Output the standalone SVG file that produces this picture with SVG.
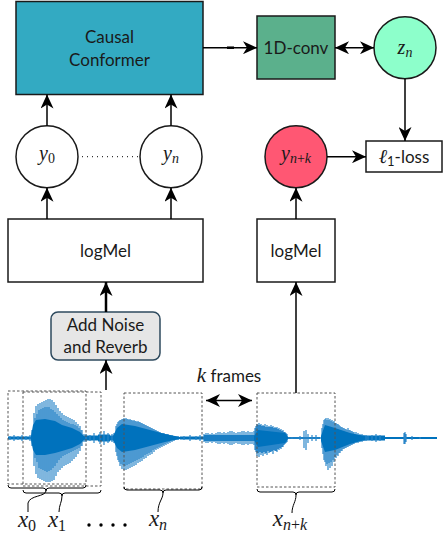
<svg xmlns="http://www.w3.org/2000/svg" width="443" height="538" viewBox="0 0 443 538">
<defs>
<style>
.box{stroke:#1a1a1a;stroke-width:1.5}
.lbl{font-family:Lato,"Noto Sans",sans-serif;font-size:17px;fill:#1a1a1a;text-anchor:middle}
.math{font-family:"Liberation Serif","DejaVu Serif",serif;font-style:italic;fill:#1a1a1a;text-anchor:middle}
.ln{stroke:#000;stroke-width:1.5;fill:none}
.dash{fill:none;stroke:#555;stroke-width:1;stroke-dasharray:2.5 2}
.brace{fill:none;stroke:#000;stroke-width:1}
.wl{fill:none;stroke:#2a86c9;stroke-width:1.2}
.wc{fill:#0072bd}
</style>
<marker id="ah" viewBox="0 0 14 13" refX="14" refY="6.5" markerWidth="14" markerHeight="13" markerUnits="userSpaceOnUse" orient="auto-start-reverse">
<path d="M0,0 L14,6.5 L0,13 L4,6.5 Z" fill="#000"/>
</marker>
</defs>

<g id="waveform">
<path d="M8 438H437" stroke="#3a8fd0" stroke-width="1.5"/>
<path class="wc" d="M8 436.5H32V439.5H8Z M84 435.5H114V440.5H84Z M98 434.5H110V441.5H98Z M180 436.5H204V439.5H180Z M204 435H255V441H204Z M288 437.2H320V438.8H288Z M355 435.5H385V440.5H355Z M385 437H437V439H385Z"/>
<path class="wl" d="M10 436V440M14 435V441M18 436V440M22 435V441M26 436V440M30 435V441M86 434V442M90 435V441M94 433V443M100 432V444M104 431V445M108 433V443M112 434V442M184 436V440M190 435V441M196 436V440M200 435V441M204 434V442M206 433V443M208 433V443M210 434V442M212 433V443M214 434V442M216 433V443M218 432V444M220 432V444M222 433V443M224 432V444M226 433V443M228 432V444M230 431V445M232 431V445M234 432V444M236 433V443M238 432V444M240 432V444M242 431V445M244 431V445M246 432V444M248 431V445M250 432V444M252 432V444M254 431V445M292 437V439M300 436V440M304 431V448M306 430V450M308 434V443M312 435V441M316 435V441M372 435V441M376 434V442M380 435V441M404 433V444M405 432V444M406 434V442M412 436V440M420 437V439"/>
<path class="wl" d="M32 430V446M34 413V466M36 406V474M38 404V478M40 403V479M42 402V480M44 401V481M46 400V482M48 399V482M50 399V482M52 400V481M54 402V480M56 405V476M58 408V472M60 411V470M62 413V468M64 415V466M66 416V465M68 417V464M70 418V463M72 419V461M74 420V459M76 422V457M78 424V454M80 426V451M82 430V446M84 434V442"/>
<path class="wl" d="M35 418V458M37 414V462M39 410V468M41 409V469M43 408V470M45 407V471M47 407V472M49 407V471M51 409V470M53 410V468M55 412V466M57 414V463M59 416V460M61 418V458M63 420V456M65 421V455M67 422V454M69 423V453M71 424V452M73 424V451M75 425V450M77 426V449M79 428V448M81 430V446"/>
<path class="wc" d="M31 436L33 425L36 420L45 419L55 421L62 425L72 428L80 432L85 437L85 439L80 444L72 448L62 451L55 453L45 455L36 455L33 450L31 440Z"/>
<path class="wl" d="M114 433V443M116 426V452M118 422V460M120 420V466M122 419V469M124 418V470M126 418V470M128 419V469M130 419V468M132 420V467M134 420V466M136 421V465M138 421V463M140 422V462M142 423V461M144 424V459M146 425V458M148 426V456M150 427V455M152 428V454M154 429V452M156 430V450M158 431V449M160 432V448M162 433V447M164 433V446M166 434V445M168 434V444M170 435V443M172 435V442M174 436V441M176 436V440M178 436V440"/>
<path class="wl" d="M117 424V456M119 421V462M121 420V464M123 419V465M125 419V466M127 419V465M129 420V464M131 420V463M133 421V462M135 421V461M137 422V460M139 422V459M141 423V458M143 424V457M145 425V455M147 426V454M149 427V453M151 428V452M153 429V450M155 430V449M157 431V448M159 432V447M161 433V446M163 433V445M165 434V444M167 434V443M169 435V442"/>
<path class="wc" d="M113 436L117 428L122 424L135 426L150 430L165 434L180 437L180 439L165 442L150 446L135 450L122 452L117 448L113 440Z"/>
<path class="wl" d="M255 428V450M256 426V452M257 424V456M258 425V453M259 423V457M260 425V452M261 424V455M262 426V453M263 425V456M264 426V452M265 424V454M266 427V453M267 425V455M268 427V451M269 426V453M270 427V452M271 425V452M272 427V451M273 426V454M274 428V450M275 427V451M276 428V451M277 427V452M278 429V449M279 428V450M280 430V448M281 429V449M282 431V447M283 430V447M284 432V445M285 432V444M286 433V443M287 434V442"/>
<path class="wc" d="M254 436L258 430L285 433L288 437L288 439L285 443L258 447L254 440Z"/>
<path class="wl" d="M322 428V448M324 420V460M326 418V466M328 418V470M330 419V468M332 420V466M334 421V462M336 423V458M338 424V456M340 426V453M342 427V451M344 428V449M346 429V448M348 428V447M350 430V446M352 431V445M354 432V444M356 432V443M358 433V443M360 434V442M362 434V442M364 435V441M366 435V441M368 436V440"/>
<path class="wl" d="M323 424V454M325 419V462M327 420V464M329 420V463M331 421V462M333 422V460M335 423V457M337 424V455M339 425V453M341 427V451M343 428V449M345 429V448M347 430V447M349 430V446M351 431V445M353 432V444"/>
<path class="wc" d="M321 436L325 425L335 428L350 433L365 436L365 440L350 444L335 450L325 452L321 441Z"/>
</g>

<g id="frames">
<rect class="dash" x="8" y="391" width="78" height="93"/>
<rect class="dash" x="23" y="392" width="78" height="94"/>
<rect class="dash" x="124" y="393" width="78" height="96"/>
<rect class="dash" x="257" y="393" width="78" height="94"/>
</g>

<g id="braces">
<path class="brace" d="M8,485 Q8,488 11,488 L43,488 Q46,488 46,491 Q46,488 49,488 L83,488 Q86,488 86,485"/>
<path class="brace" d="M46,491 C45,497 30,495 28,503 L28,512"/>
<path class="brace" d="M23,490 Q23,493 26,493 L59,493 Q62,493 62,496 Q62,493 65,493 L98,493 Q101,493 101,490"/>
<path class="brace" d="M62,496 C62,502 59,505 59,512"/>
<path class="brace" d="M124,487 Q124,490 127,490 L160,490 Q163,490 163,493 Q163,490 166,490 L199,490 Q202,490 202,487"/>
<path class="brace" d="M163,493 C163,499 158,502 158,512"/>
<path class="brace" d="M257,489 Q257,492 260,492 L293,492 Q296,492 296,495 Q296,492 299,492 L332,492 Q335,492 335,489"/>
<path class="brace" d="M296,495 C296,502 292,505 292,513"/>
</g>

<g id="frame-labels">
<text class="math" x="27" y="527" font-size="23">x<tspan font-size="16" dy="4" font-style="normal">0</tspan></text>
<text class="math" x="57" y="527" font-size="23">x<tspan font-size="16" dy="4" font-style="normal">1</tspan></text>
<circle cx="89" cy="525" r="1.7"/><circle cx="101" cy="525" r="1.7"/><circle cx="113" cy="525" r="1.7"/><circle cx="125" cy="525" r="1.7"/>
<text class="math" x="158" y="526" font-size="23">x<tspan font-size="16" dy="4">n</tspan></text>
<text class="math" x="290" y="526" font-size="23">x<tspan font-size="16" dy="4">n<tspan font-style="normal">+</tspan>k</tspan></text>
<text x="229" y="382" class="lbl"><tspan class="math" font-size="21">k</tspan> frames</text>
</g>

<g id="conformer">
<rect class="box" x="16" y="1.5" width="187" height="93" fill="#33aac2"/>
<text class="lbl" x="109.5" y="43">Causal</text>
<text class="lbl" x="109.5" y="66">Conformer</text>
</g>

<g id="conv1d">
<rect class="box" x="257" y="16" width="78" height="63" fill="#5bb08c"/>
<text class="lbl" x="296" y="54">1D-conv</text>
</g>

<g id="zn">
<circle class="box" cx="405" cy="47.7" r="31" fill="#8dffcb"/>
<text class="math" x="405" y="54" font-size="20">z<tspan font-size="14" dy="3">n</tspan></text>
</g>

<g id="y0">
<circle class="box" cx="47" cy="156.7" r="31" fill="#fff"/>
<text class="math" x="47" y="160" font-size="20">y<tspan font-size="14" dy="3" font-style="normal">0</tspan></text>
</g>

<g id="yn">
<circle class="box" cx="171" cy="156.7" r="31" fill="#fff"/>
<text class="math" x="171" y="160" font-size="20">y<tspan font-size="14" dy="3">n</tspan></text>
</g>

<g id="ynk">
<circle class="box" cx="296" cy="156.7" r="31" fill="#ff5773"/>
<text class="math" x="296" y="160" font-size="20">y<tspan font-size="14" dy="3">n<tspan font-style="normal">+</tspan>k</tspan></text>
</g>

<g id="l1loss">
<rect class="box" x="366" y="141" width="76" height="31" fill="#fff"/>
<text class="lbl" x="404" y="163"><tspan class="math" font-size="20">ℓ</tspan><tspan font-size="13" dy="3">1</tspan><tspan dy="-3">-loss</tspan></text>
</g>

<g id="logmel-left">
<rect class="box" x="8" y="219" width="195" height="63" fill="#fff"/>
<text class="lbl" x="105.5" y="257">logMel</text>
</g>

<g id="logmel-right">
<rect class="box" x="257" y="219" width="78" height="63" fill="#fff"/>
<text class="lbl" x="296" y="257">logMel</text>
</g>

<g id="augment">
<rect x="51" y="312" width="109" height="48" rx="7" fill="#e6e6e6" stroke="#2e4a5e" stroke-width="1.5"/>
<text class="lbl" x="105.5" y="331">Add Noise</text>
<text class="lbl" x="105.5" y="353">and Reverb</text>
</g>

<g id="connectors">
<path class="ln" d="M203,47.7 H257" marker-end="url(#ah)"/>
<path d="M227,47.7 H234" stroke="#000" stroke-width="2.5"/>
<path class="ln" d="M335,47.7 H374" marker-start="url(#ah)" marker-end="url(#ah)"/>
<path class="ln" d="M405,78.7 V141" marker-end="url(#ah)"/>
<path class="ln" d="M47,125.7 V94.5" marker-end="url(#ah)"/>
<path class="ln" d="M171,125.7 V94.5" marker-end="url(#ah)"/>
<path d="M82,156.7 H140" stroke="#000" stroke-width="1" stroke-dasharray="1 4"/>
<path class="ln" d="M47,219 V187.7" marker-end="url(#ah)"/>
<path class="ln" d="M171,219 V187.7" marker-end="url(#ah)"/>
<path class="ln" d="M296,219 V187.7" marker-end="url(#ah)"/>
<path class="ln" d="M327,156.7 H366" marker-end="url(#ah)"/>
<path d="M106,312 V282" stroke="#000" stroke-width="2.5" fill="none" marker-end="url(#ah)"/>
<path class="ln" d="M106,390 V360" marker-end="url(#ah)"/>
<path class="ln" d="M296,393 V282" marker-end="url(#ah)"/>
<path class="ln" d="M206,400.5 H252" marker-start="url(#ah)" marker-end="url(#ah)"/>
</g>
</svg>
